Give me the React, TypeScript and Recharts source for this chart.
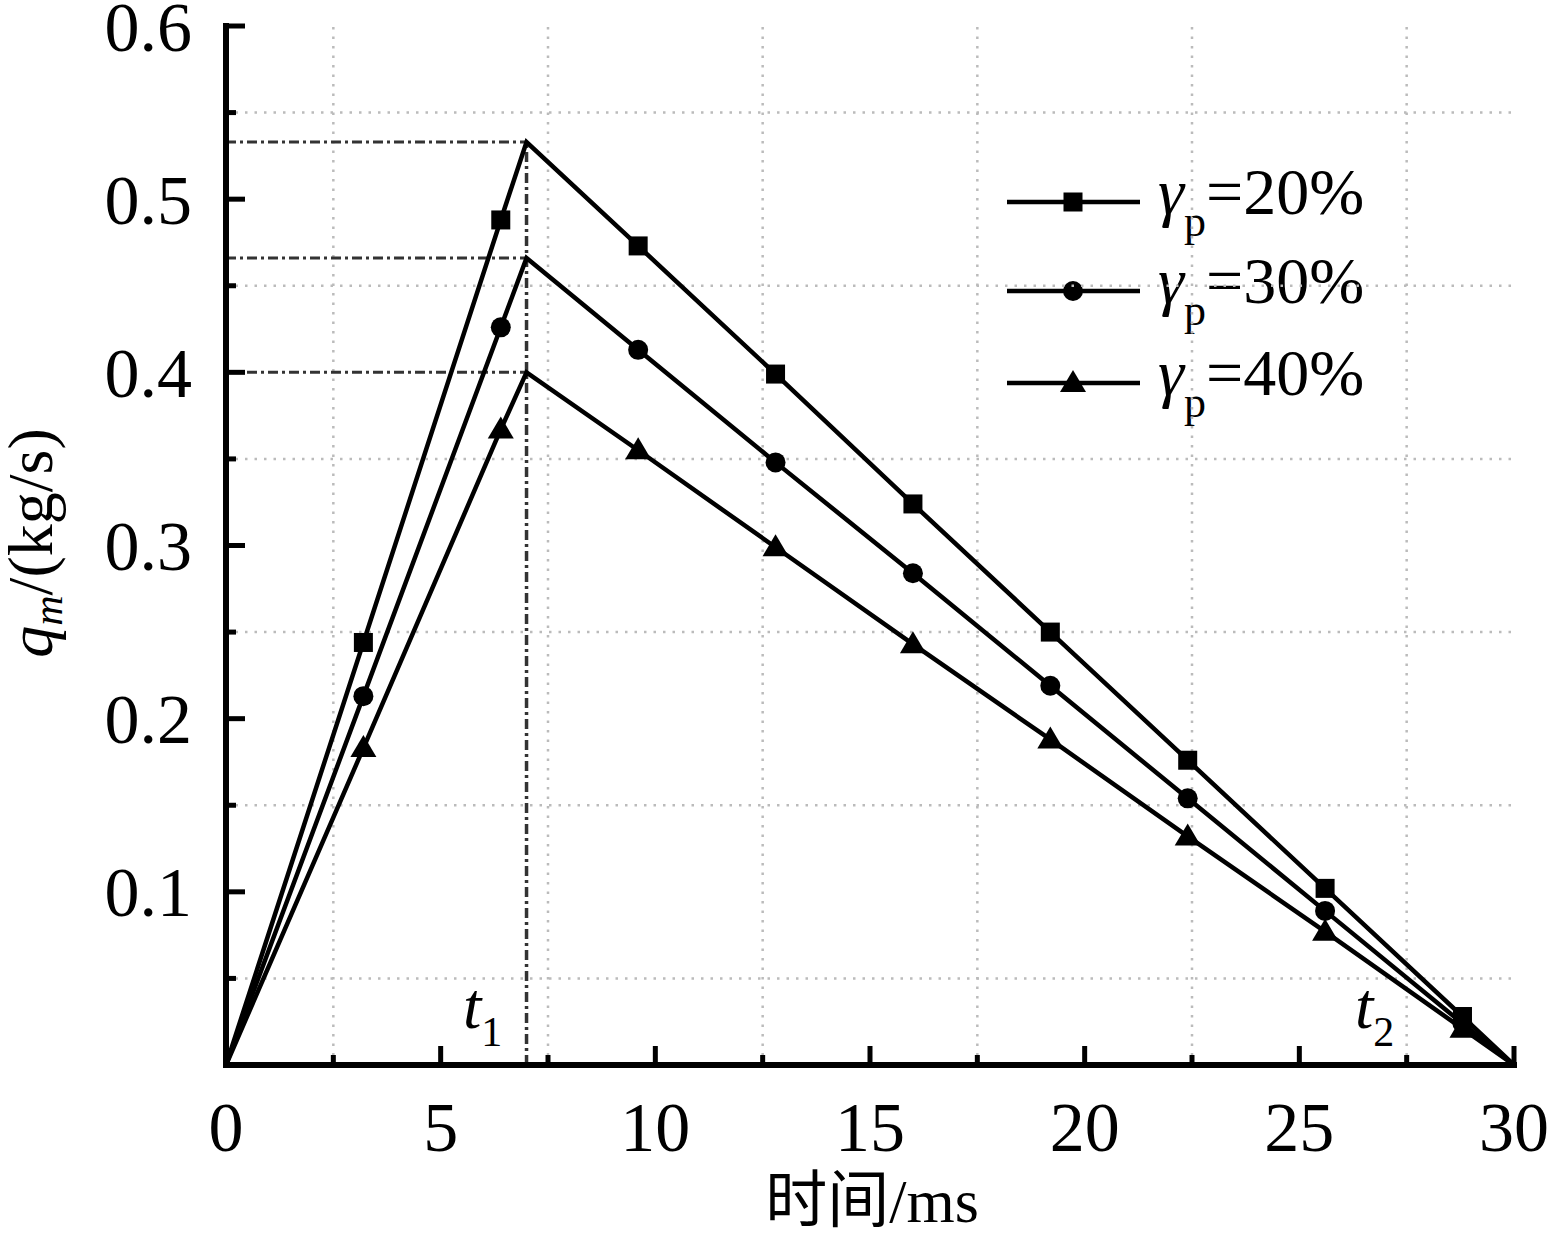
import React from "react";
import { LineChart, Line, XAxis, YAxis, ReferenceLine, Customized } from "recharts";

// time axis (ms) shared by all three series
const timeMs = [0, 3.2, 6.4, 7.0, 9.6, 12.8, 16.0, 19.2, 22.4, 25.6, 28.8, 30];
const hasMarker = [false, true, true, false, true, true, true, true, true, true, true, false];

// mass flow rate q_m (kg/s)
const gamma20 = [0, 0.244, 0.488, 0.533, 0.473, 0.399, 0.324, 0.25, 0.176, 0.102, 0.028, 0];
const gamma30 = [0, 0.213, 0.426, 0.466, 0.413, 0.348, 0.284, 0.219, 0.154, 0.089, 0.024, 0];
const gamma40 = [0, 0.183, 0.367, 0.4, 0.355, 0.299, 0.243, 0.188, 0.132, 0.077, 0.021, 0];

const seriesNames = ["20%", "30%", "40%"];
const seriesKeys = ["g20", "g30", "g40"];
const markerShapes = ["square", "circle", "triangle"];

const peakTime = 7.0;
const peakValues = [0.533, 0.466, 0.4];

const xTicks = [0, 2.5, 5, 7.5, 10, 12.5, 15, 17.5, 20, 22.5, 25, 27.5, 30];
const yTicks = [0, 0.05, 0.1, 0.15, 0.2, 0.25, 0.3, 0.35, 0.4, 0.45, 0.5, 0.55, 0.6];
const xGrid = [2.5, 7.5, 12.5, 17.5, 22.5, 27.5];
const yGrid = [0.05, 0.15, 0.25, 0.35, 0.45, 0.55];

const data = timeMs.map((t, i) => ({
  t,
  mark: hasMarker[i],
  g20: gamma20[i],
  g30: gamma30[i],
  g40: gamma40[i],
}));

const SERIF = "'Liberation Serif', 'Times New Roman', serif";
const CJK = "'Liberation Serif', 'Noto Sans CJK SC', serif";
const TICK_FONT = 70;
const FRAME = { stroke: "#000", strokeWidth: 6, strokeLinecap: "square" as const };

const Marker = ({ shape, cx, cy }: { shape: string; cx: number; cy: number }) => {
  if (shape === "square") return <rect x={cx - 9.5} y={cy - 9.5} width={19} height={19} fill="#000" />;
  if (shape === "circle") return <circle cx={cx} cy={cy} r={10} fill="#000" />;
  return <polygon points={`${cx},${cy - 13} ${cx - 13},${cy + 9} ${cx + 13},${cy + 9}`} fill="#000" />;
};

const makeDot = (shape: string) => (props: any) => {
  const { cx, cy, index, payload } = props;
  if (!payload.mark) return <g key={`e${index}`} />;
  return (
    <g key={`m${index}`}>
      <Marker shape={shape} cx={cx} cy={cy} />
    </g>
  );
};

const isMajorX = (v: number) => v % 5 === 0;
const isMajorY = (v: number) => Math.round(v * 100) % 10 === 0;

const BottomTick = (props: any) => {
  const { x, y, payload } = props;
  const v = payload.value;
  const major = isMajorX(v);
  return (
    <g>
      <line x1={x} x2={x} y1={y} y2={y - (major ? 19 : 10)} stroke="#000" strokeWidth={5} />
      {major && (
        <text x={x} y={y + 86} textAnchor="middle" fontSize={TICK_FONT} fontFamily={SERIF} fill="#000">
          {v}
        </text>
      )}
    </g>
  );
};

const TopTick = (props: any) => {
  const { x, y, payload } = props;
  const major = isMajorX(payload.value);
  return <line x1={x} x2={x} y1={y} y2={y + (major ? 19 : 10)} stroke="#000" strokeWidth={5} />;
};

const LeftTick = (props: any) => {
  const { x, y, payload } = props;
  const v = payload.value;
  const major = isMajorY(v);
  return (
    <g>
      <line x1={x} x2={x + (major ? 19 : 10)} y1={y} y2={y} stroke="#000" strokeWidth={5} />
      {major && v > 0 && (
        <text x={x - 34} y={y} dy="0.35em" textAnchor="end" fontSize={TICK_FONT} fontFamily={SERIF} fill="#000">
          {v.toFixed(1)}
        </text>
      )}
    </g>
  );
};

const RightTick = (props: any) => {
  const { x, y, payload } = props;
  const major = isMajorY(payload.value);
  return <line x1={x} x2={x - (major ? 19 : 10)} y1={y} y2={y} stroke="#000" strokeWidth={5} />;
};

const Annotations = () => (
  <g fill="#000">
    {/* y axis title */}
    <text
      x={52}
      y={543}
      transform="rotate(-90 52 543)"
      textAnchor="middle"
      fontSize={64}
      fontFamily={SERIF}
    >
      <tspan fontStyle="italic">q</tspan>
      <tspan fontStyle="italic" fontSize={42} dy={10}>m</tspan>
      <tspan dy={-10}>/(kg/s)</tspan>
    </text>
    {/* x axis title */}
    <text x={872} y={1222} textAnchor="middle" fontSize={62} fontFamily={CJK}>
      时间/ms
    </text>
    {/* t1, t2 */}
    <text x={463} y={1028} fontSize={66} fontFamily={SERIF}>
      <tspan fontStyle="italic">t</tspan>
      <tspan fontSize={42} dy={18}>1</tspan>
    </text>
    <text x={1355} y={1028} fontSize={66} fontFamily={SERIF}>
      <tspan fontStyle="italic">t</tspan>
      <tspan fontSize={42} dy={18}>2</tspan>
    </text>
    {/* legend */}
    {seriesNames.map((name, i) => {
      const ly = [202, 291, 383][i];
      return (
        <g key={name}>
          <line x1={1007} x2={1140} y1={ly} y2={ly} stroke="#000" strokeWidth={4.5} />
          <Marker shape={markerShapes[i]} cx={1073} cy={ly} />
          <text x={1158} y={ly + 12} fontSize={66} fontFamily={SERIF}>
            <tspan fontStyle="italic">γ</tspan>
            <tspan fontSize={44} dy={22}>p</tspan>
            <tspan dy={-22}>={name}</tspan>
          </text>
        </g>
      );
    })}
  </g>
);

export default function App() {
  return (
    <div style={{ position: "absolute", left: 0, top: 0, width: 1547, height: 1237, background: "#fff" }}>
      <LineChart width={1547} height={1237} data={data} margin={{ top: 26, right: 33, bottom: 0, left: 0 }}>
        <XAxis
          xAxisId="b"
          dataKey="t"
          type="number"
          domain={[0, 30]}
          ticks={xTicks}
          interval={0}
          height={172}
          tickSize={0}
          tickMargin={0}
          tick={<BottomTick />}
          axisLine={FRAME}
        />
        <XAxis
          xAxisId="t"
          dataKey="t"
          type="number"
          orientation="top"
          mirror
          domain={[0, 30]}
          ticks={xTicks}
          interval={0}
          height={0}
          tickSize={0}
          tickMargin={0}
          tick={<TopTick />}
          axisLine={FRAME}
        />
        <YAxis
          yAxisId="l"
          type="number"
          domain={[0, 0.6]}
          ticks={yTicks}
          interval={0}
          width={226}
          tickSize={0}
          tickMargin={0}
          tick={<LeftTick />}
          axisLine={FRAME}
        />
        <YAxis
          yAxisId="r"
          type="number"
          orientation="right"
          mirror
          domain={[0, 0.6]}
          ticks={yTicks}
          interval={0}
          width={0}
          tickSize={0}
          tickMargin={0}
          tick={<RightTick />}
          axisLine={FRAME}
        />
        {xGrid.map((v) => (
          <ReferenceLine key={`gx${v}`} xAxisId="b" yAxisId="l" x={v} stroke="#bbb" strokeWidth={2.5} strokeDasharray="2.5 7" />
        ))}
        {yGrid.map((v) => (
          <ReferenceLine key={`gy${v}`} xAxisId="b" yAxisId="l" y={v} stroke="#bbb" strokeWidth={2.5} strokeDasharray="2.5 7" />
        ))}
        {peakValues.map((v) => (
          <ReferenceLine
            key={`pk${v}`}
            xAxisId="b"
            yAxisId="l"
            segment={[{ x: 0, y: v }, { x: peakTime, y: v }]}
            stroke="#333"
            strokeWidth={3}
            strokeDasharray="10 4 3 4"
          />
        ))}
        <ReferenceLine
          xAxisId="b"
          yAxisId="l"
          segment={[{ x: peakTime, y: 0 }, { x: peakTime, y: peakValues[0] }]}
          stroke="#333"
          strokeWidth={3.5}
          strokeDasharray="10 4 3 4"
        />
        {seriesKeys.map((k, i) => (
          <Line
            key={k}
            xAxisId="b"
            yAxisId="l"
            dataKey={k}
            stroke="#000"
            strokeWidth={4.5}
            dot={makeDot(markerShapes[i])}
            activeDot={false}
            isAnimationActive={false}
          />
        ))}
        <Customized component={Annotations} />
      </LineChart>
    </div>
  );
}
